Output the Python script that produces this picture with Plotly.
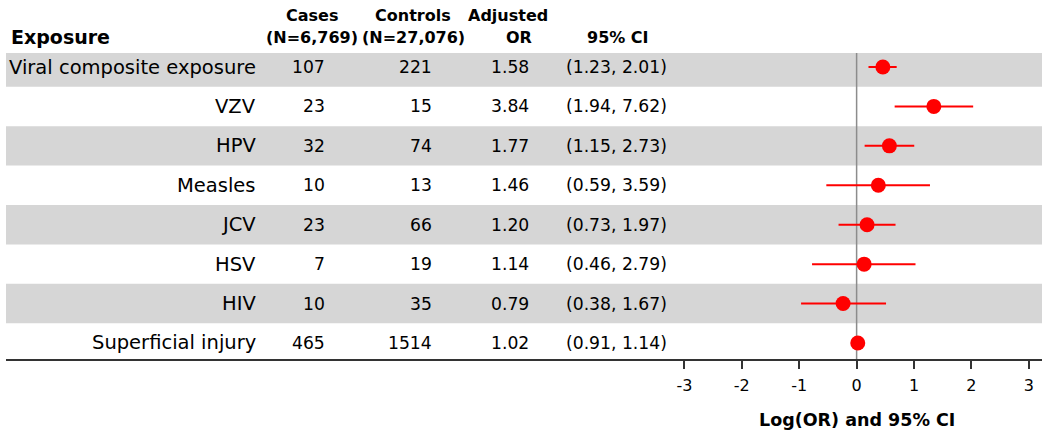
import numpy as np
import plotly.graph_objects as go

# ---------------- data ----------------
exposures = ["Viral composite exposure", "VZV", "HPV", "Measles", "JCV", "HSV", "HIV", "Superficial injury"]
cases = [107, 23, 32, 10, 23, 7, 10, 465]
controls = [221, 15, 74, 13, 66, 19, 35, 1514]
adj_or = [1.58, 3.84, 1.77, 1.46, 1.20, 1.14, 0.79, 1.02]
ci_low = [1.23, 1.94, 1.15, 0.59, 0.73, 0.46, 0.38, 0.91]
ci_high = [2.01, 7.62, 2.73, 3.59, 1.97, 2.79, 1.67, 1.14]
x_ticks = [-3, -2, -1, 0, 1, 2, 3]

# ---------------- layout geometry (pixels) ----------------
W, H = 1050, 436
ML, MR, MT, MB = 6, 8, 53, 77
PW, PH = W - ML - MR, H - MT - MB
X_MIN, X_MAX = -14.82, 3.23
Y_TOP, Y_BOT = -0.355, 7.406


def px_x(px):
    return (px - ML) / PW


def px_y(py):
    return (H - MB - py) / PH


rows = list(range(len(exposures)))
log_or = np.log(adj_or)
log_lo = np.log(ci_low)
log_hi = np.log(ci_high)

BODY = dict(family="DejaVu Sans", size=17.2, color="#000000")
LABEL = dict(family="DejaVu Sans", size=19.5, color="#000000")
HEAD = dict(family="DejaVu Sans", size=16, color="#000000")

fig = go.Figure()

fig.add_trace(go.Scatter(
    x=log_or, y=rows, mode="markers",
    marker=dict(color="#ff0000", size=15, line=dict(width=0)),
    error_x=dict(type="data", symmetric=False,
                 array=log_hi - log_or, arrayminus=log_or - log_lo,
                 color="#ff0000", thickness=2, width=0),
    showlegend=False, hoverinfo="skip",
))

shapes = []
for i in rows:
    if i % 2 == 0:
        shapes.append(dict(type="rect", xref="x", yref="y",
                           x0=X_MIN, x1=X_MAX,
                           y0=max(i - 0.5, Y_TOP), y1=i + 0.5,
                           fillcolor="#d6d6d6", line=dict(width=0), layer="below"))
shapes.append(dict(type="line", xref="x", yref="y", x0=0, x1=0, y0=Y_TOP, y1=Y_BOT,
                   line=dict(color="#8c8c8c", width=1.5), layer="below"))

ann = []
for i in rows:
    ann.append(dict(x=px_x(258), y=i, xref="paper", yref="y", text=exposures[i],
                    xanchor="right", yanchor="middle", showarrow=False, font=LABEL))
    ann.append(dict(x=px_x(327), y=i, xref="paper", yref="y", text=str(cases[i]),
                    xanchor="right", yanchor="middle", showarrow=False, font=BODY))
    ann.append(dict(x=px_x(434), y=i, xref="paper", yref="y", text=str(controls[i]),
                    xanchor="right", yanchor="middle", showarrow=False, font=BODY))
    ann.append(dict(x=px_x(531), y=i, xref="paper", yref="y", text=f"{adj_or[i]:.2f}",
                    xanchor="right", yanchor="middle", showarrow=False, font=BODY))
    ann.append(dict(x=px_x(564), y=i, xref="paper", yref="y",
                    text=f"({ci_low[i]:.2f}, {ci_high[i]:.2f})",
                    xanchor="left", yanchor="middle", showarrow=False, font=BODY))

# headers
ann.append(dict(x=px_x(9), y=px_y(37.5), xref="paper", yref="paper", text="<b>Exposure</b>",
                xanchor="left", yanchor="middle", showarrow=False,
                font=dict(family="DejaVu Sans", size=19, color="#000000")))
header_cols = [
    (312, "Cases", "(N=6,769)"),
    (413, "Controls", "(N=27,076)"),
    (508, "Adjusted", None),
]
for cx, l1, l2 in header_cols:
    ann.append(dict(x=px_x(cx), y=px_y(16), xref="paper", yref="paper", text=f"<b>{l1}</b>",
                    xanchor="center", yanchor="middle", showarrow=False, font=HEAD))
    if l2:
        ann.append(dict(x=px_x(cx), y=px_y(37.5), xref="paper", yref="paper", text=f"<b>{l2}</b>",
                        xanchor="center", yanchor="middle", showarrow=False, font=HEAD))
ann.append(dict(x=px_x(519), y=px_y(37.5), xref="paper", yref="paper", text="<b>OR</b>",
                xanchor="center", yanchor="middle", showarrow=False, font=HEAD))
ann.append(dict(x=px_x(618), y=px_y(37.5), xref="paper", yref="paper", text="<b>95% CI</b>",
                xanchor="center", yanchor="middle", showarrow=False, font=HEAD))

# axis title
ann.append(dict(x=0, y=px_y(420), xref="x", yref="paper", text="<b>Log(OR) and 95% CI</b>",
                xanchor="center", yanchor="middle", showarrow=False,
                font=dict(family="DejaVu Sans", size=17.5, color="#000000")))

fig.update_layout(
    width=W, height=H,
    margin=dict(l=ML, r=MR, t=MT, b=MB, pad=0),
    paper_bgcolor="#ffffff", plot_bgcolor="#ffffff",
    shapes=shapes, annotations=ann,
    xaxis=dict(range=[X_MIN, X_MAX], tickmode="array", tickvals=x_ticks,
               ticktext=[str(t) for t in x_ticks],
               ticks="outside", ticklen=8, tickwidth=1.5, tickcolor="#333333",
               ticklabelstandoff=3,
               showline=True, linecolor="#333333", linewidth=2,
               showgrid=False, zeroline=False, fixedrange=True,
               tickfont=dict(family="DejaVu Sans", size=16, color="#000000")),
    yaxis=dict(range=[Y_BOT, Y_TOP], visible=False, showgrid=False, zeroline=False,
               fixedrange=True),
)

fig.write_html(
    "out.html",
    config={"displayModeBar": False},
    post_script="document.body.style.margin='0';document.body.style.padding='0';"
                "document.body.style.overflow='hidden';",
)
